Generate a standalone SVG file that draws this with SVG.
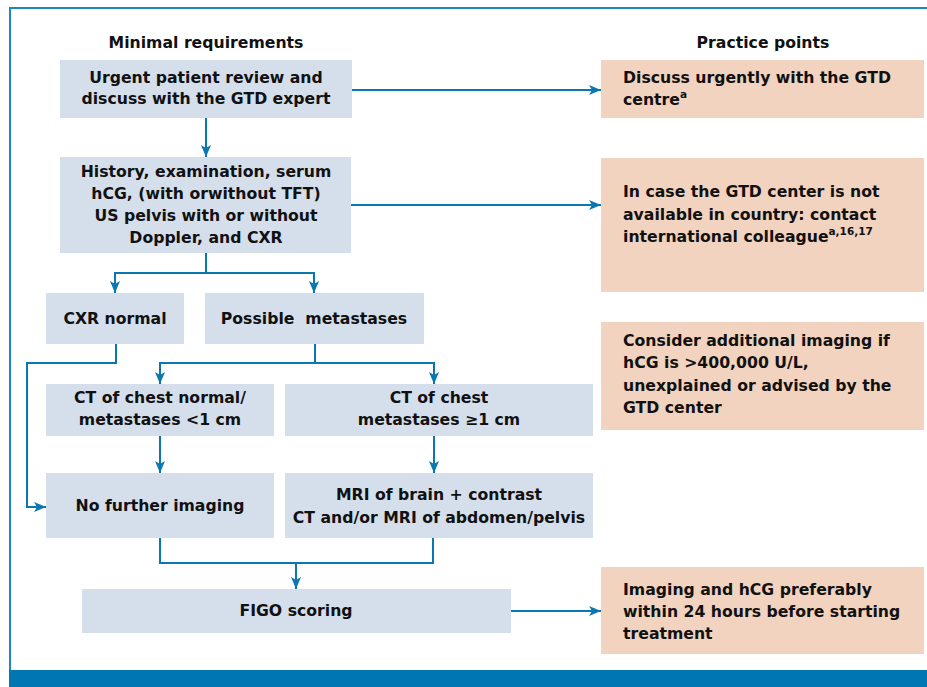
<svg xmlns="http://www.w3.org/2000/svg" width="927" height="687" viewBox="0 0 927 687">
  <style>
    text { font-family: "DejaVu Sans", "Liberation Sans", sans-serif; font-weight: bold; font-size: 15.7px; fill: #111; }
    .c { text-anchor: middle; }
    .sup { font-size: 10.5px; }
    .req { fill: #d5dfec; }
    .pp { fill: #f2d3bf; }
    .link { fill: none; stroke: #0a77b0; stroke-width: 2; }
  </style>
  <defs>
    <marker id="arrow" viewBox="0 0 12 10" refX="12" refY="5" markerWidth="12" markerHeight="10" markerUnits="userSpaceOnUse" orient="auto">
      <path d="M0,0 L12,5 L0,10 L3,5 z" fill="#0a77b0"/>
    </marker>
  </defs>

  <rect width="927" height="687" fill="#fff"/>
  <!-- frame -->
  <path d="M10,670 V8 H927" fill="none" stroke="#1f86be" stroke-width="2"/>
  <rect x="9" y="670" width="918" height="17" fill="#0077b2"/>

  <!-- column headers -->
  <text class="c" x="206" y="48">Minimal requirements</text>
  <text class="c" x="763" y="48">Practice points</text>

  <!-- connectors -->
  <g id="connectors">
    <path class="link" d="M206,118 V157" marker-end="url(#arrow)"/>
    <path class="link" d="M352,90 H601" marker-end="url(#arrow)"/>
    <path class="link" d="M351,205 H601" marker-end="url(#arrow)"/>
    <path class="link" d="M206,253 V273 H115 V293" marker-end="url(#arrow)"/>
    <path class="link" d="M206,273 H314 V293" marker-end="url(#arrow)"/>
    <path class="link" d="M116,344 V363 H27 V507 H46" marker-end="url(#arrow)"/>
    <path class="link" d="M315,344 V363 H160 V384" marker-end="url(#arrow)"/>
    <path class="link" d="M315,363 H434 V384" marker-end="url(#arrow)"/>
    <path class="link" d="M160,436 V473" marker-end="url(#arrow)"/>
    <path class="link" d="M434,436 V473" marker-end="url(#arrow)"/>
    <path class="link" d="M160,538 V563 H433 V538"/>
    <path class="link" d="M296,563 V589" marker-end="url(#arrow)"/>
    <path class="link" d="M511,611 H601" marker-end="url(#arrow)"/>
  </g>

  <!-- minimal requirements column -->
  <g id="urgent-review">
    <rect class="req" x="60" y="60" width="292" height="58"/>
    <text class="c" x="206" y="83">Urgent patient review and</text>
    <text class="c" x="206" y="104">discuss with the GTD expert</text>
  </g>
  <g id="history">
    <rect class="req" x="60" y="157" width="291" height="96"/>
    <text class="c" x="206" y="177">History, examination, serum</text>
    <text class="c" x="206" y="199">hCG, (with orwithout TFT)</text>
    <text class="c" x="206" y="221">US pelvis with or without</text>
    <text class="c" x="206" y="243">Doppler, and CXR</text>
  </g>
  <g id="cxr-normal">
    <rect class="req" x="46" y="293" width="138" height="51"/>
    <text class="c" x="115" y="324">CXR normal</text>
  </g>
  <g id="possible-metastases">
    <rect class="req" x="205" y="293" width="219" height="51"/>
    <text class="c" x="314" y="324" xml:space="preserve">Possible  metastases</text>
  </g>
  <g id="ct-normal">
    <rect class="req" x="46" y="384" width="228" height="52"/>
    <text class="c" x="160" y="403">CT of chest normal/</text>
    <text class="c" x="160" y="425">metastases &lt;1 cm</text>
  </g>
  <g id="ct-metastases">
    <rect class="req" x="285" y="384" width="308" height="52"/>
    <text class="c" x="439" y="403">CT of chest</text>
    <text class="c" x="439" y="425">metastases ≥1 cm</text>
  </g>
  <g id="no-further-imaging">
    <rect class="req" x="46" y="473" width="228" height="65"/>
    <text class="c" x="160" y="511">No further imaging</text>
  </g>
  <g id="mri">
    <rect class="req" x="285" y="473" width="308" height="65"/>
    <text class="c" x="439" y="500">MRI of brain + contrast</text>
    <text class="c" x="439" y="523">CT and/or MRI of abdomen/pelvis</text>
  </g>
  <g id="figo">
    <rect class="req" x="82" y="589" width="429" height="44"/>
    <text class="c" x="296" y="616">FIGO scoring</text>
  </g>

  <!-- practice points column -->
  <g id="pp-discuss">
    <rect class="pp" x="601" y="60" width="323" height="58"/>
    <text x="623" y="83">Discuss urgently with the GTD</text>
    <text x="623" y="105">centre<tspan class="sup" dy="-7">a</tspan></text>
  </g>
  <g id="pp-international">
    <rect class="pp" x="601" y="158" width="323" height="134"/>
    <text x="623" y="197">In case the GTD center is not</text>
    <text x="623" y="220">available in country: contact</text>
    <text x="623" y="242">international colleague<tspan class="sup" dy="-7">a,16,17</tspan></text>
  </g>
  <g id="pp-imaging">
    <rect class="pp" x="601" y="322" width="323" height="108"/>
    <text x="623" y="346">Consider additional imaging if</text>
    <text x="623" y="368">hCG is &gt;400,000 U/L,</text>
    <text x="623" y="391">unexplained or advised by the</text>
    <text x="623" y="413">GTD center</text>
  </g>
  <g id="pp-timing">
    <rect class="pp" x="601" y="567" width="323" height="87"/>
    <text x="623" y="595">Imaging and hCG preferably</text>
    <text x="623" y="617">within 24 hours before starting</text>
    <text x="623" y="639">treatment</text>
  </g>
</svg>
